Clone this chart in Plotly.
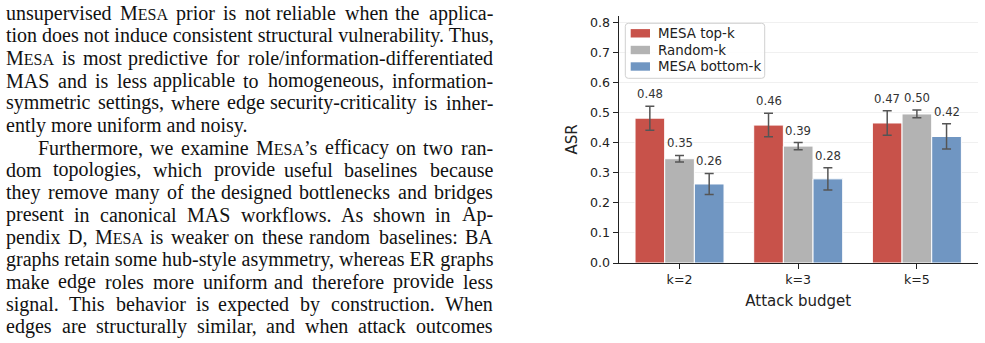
import plotly.graph_objects as go

W, H = 985, 343

# ---------------- data ----------------
categories = ["k=2", "k=3", "k=5"]
series_names = ["MESA top-k", "Random-k", "MESA bottom-k"]
top_k = [0.482, 0.459, 0.466]
top_k_err = [0.040, 0.039, 0.041]
random_k = [0.347, 0.389, 0.496]
random_k_err = [0.011, 0.012, 0.013]
bottom_k = [0.263, 0.280, 0.421]
bottom_k_err = [0.035, 0.037, 0.042]
y_ticks = [0.0, 0.1, 0.2, 0.3, 0.4, 0.5, 0.6, 0.7, 0.8]

colors = ["#C8524A", "#B3B3B3", "#7096C2"]

paragraph_lines = [
    "unsupervised MESA prior is not reliable when the applica-",
    "tion does not induce consistent structural vulnerability. Thus,",
    "MESA is most predictive for role/information-differentiated",
    "MAS and is less applicable to homogeneous, information-",
    "symmetric settings, where edge security-criticality is inher-",
    "ently more uniform and noisy.",
    "Furthermore, we examine MESA’s efficacy on two ran-",
    "dom topologies, which provide useful baselines because",
    "they remove many of the designed bottlenecks and bridges",
    "present in canonical MAS workflows. As shown in Ap-",
    "pendix D, MESA is weaker on these random baselines: BA",
    "graphs retain some hub-style asymmetry, whereas ER graphs",
    "make edge roles more uniform and therefore provide less",
    "signal. This behavior is expected by construction. When",
    "edges are structurally similar, and when attack outcomes",
]
indented_line = 6
paragraph_end_line = 5

# ---------------- text layout helpers ----------------
FS, SCFS = 20, 16
TW = {" ": 250, "!": 333, ",": 250, "-": 333, ".": 250, "/": 278, ":": 278,
      ";": 278, "’": 333, "'": 180,
      "A": 722, "B": 667, "C": 667, "D": 722, "E": 611, "F": 556, "G": 722,
      "H": 722, "I": 333, "J": 389, "K": 722, "L": 611, "M": 889, "N": 722,
      "O": 722, "P": 556, "Q": 722, "R": 667, "S": 556, "T": 611, "U": 722,
      "V": 722, "W": 944, "X": 722, "Y": 722, "Z": 611,
      "a": 444, "b": 500, "c": 444, "d": 500, "e": 444, "f": 333, "g": 500,
      "h": 500, "i": 278, "j": 278, "k": 500, "l": 278, "m": 778, "n": 500,
      "o": 500, "p": 500, "q": 500, "r": 333, "s": 389, "t": 278, "u": 500,
      "v": 500, "w": 722, "x": 500, "y": 500, "z": 444}


def text_w(s, size):
    return sum(TW.get(c, 500) for c in s) * size / 1000.0


def word_w(word):
    if "MESA" in word:
        pre, post = word.split("MESA", 1)
        return text_w(pre + "M" + post, FS) + text_w("ESA", SCFS)
    return text_w(word, FS)


def word_html(word):
    return word.replace("MESA", f'M<span style="font-size:{SCFS}px">ESA</span>')


def px_x(v):
    return v / W


def px_y(v):
    return 1 - v / H


# ---------------- figure ----------------
xs = list(range(len(categories)))
fig = go.Figure()
all_vals = [top_k, random_k, bottom_k]
all_errs = [top_k_err, random_k_err, bottom_k_err]
for name, vals, errs, col in zip(series_names, all_vals, all_errs, colors):
    fig.add_trace(go.Bar(
        x=xs, y=vals, name=name, showlegend=False,
        marker=dict(color=col, line=dict(color="white", width=1)),
        error_y=dict(type="data", array=errs, visible=True,
                     color="#555555", thickness=1.5, width=4.5),
    ))

# value labels
offsets = [-0.25, 0.0, 0.25]
for off, vals, errs in zip(offsets, all_vals, all_errs):
    for xi, v, e in zip(xs, vals, errs):
        fig.add_annotation(
            x=xi + off, y=v + e, xref="x", yref="y",
            text=f"{v:.2f}", showarrow=False,
            yanchor="bottom", xanchor="center", yshift=3,
            font=dict(family="DejaVu Sans", size=11.7, color="#333333"),
        )

# paragraph text (justified where there is room)
LEFT, RIGHT = 5.0, 494.0
tfont = dict(family="Liberation Serif", size=FS, color="#111111")
for i, line in enumerate(paragraph_lines):
    xs0 = 37.0 if i == indented_line else LEFT
    ypx = 13.5 + 22.35 * i
    words = line.split(" ")
    widths = [word_w(w) for w in words]
    n = len(words)
    gap = (RIGHT - xs0 - sum(widths)) / (n - 1)
    if i == paragraph_end_line or gap < 5.6:
        fig.add_annotation(x=px_x(xs0), y=px_y(ypx), xref="paper",
                           yref="paper", text=word_html(line),
                           showarrow=False, xanchor="left", yanchor="middle",
                           font=tfont, borderpad=0)
        continue
    half = (n + 1) // 2
    xpos = xs0
    for j in range(half):
        fig.add_annotation(
            x=px_x(xpos), y=px_y(ypx), xref="paper", yref="paper",
            text=word_html(words[j]), showarrow=False, xanchor="left",
            yanchor="middle", font=tfont, borderpad=0,
        )
        xpos += widths[j] + gap
    xr = RIGHT
    for j in range(n - 1, half - 1, -1):
        fig.add_annotation(
            x=px_x(xr), y=px_y(ypx), xref="paper", yref="paper",
            text=word_html(words[j]), showarrow=False, xanchor="right",
            yanchor="middle", font=tfont, borderpad=0,
        )
        xr -= widths[j] + gap

# legend box (drawn in paper coordinates)
lx0, lx1, ly0, ly1, r = 625.3, 764.7, 23.3, 78.3, 3
path = (f"M{px_x(lx0 + r)},{px_y(ly0)} L{px_x(lx1 - r)},{px_y(ly0)} "
        f"Q{px_x(lx1)},{px_y(ly0)} {px_x(lx1)},{px_y(ly0 + r)} "
        f"L{px_x(lx1)},{px_y(ly1 - r)} "
        f"Q{px_x(lx1)},{px_y(ly1)} {px_x(lx1 - r)},{px_y(ly1)} "
        f"L{px_x(lx0 + r)},{px_y(ly1)} "
        f"Q{px_x(lx0)},{px_y(ly1)} {px_x(lx0)},{px_y(ly1 - r)} "
        f"L{px_x(lx0)},{px_y(ly0 + r)} "
        f"Q{px_x(lx0)},{px_y(ly0)} {px_x(lx0 + r)},{px_y(ly0)} Z")
fig.add_shape(type="path", path=path, xref="paper", yref="paper",
              fillcolor="rgba(255,255,255,0.85)",
              line=dict(color="#D0D0D0", width=1), layer="above")
row_y = [33.3, 50.0, 66.5]
for name, col, ry in zip(series_names, colors, row_y):
    fig.add_shape(type="rect", xref="paper", yref="paper",
                  x0=px_x(630.7), x1=px_x(650.0),
                  y0=px_y(ry - 4.2), y1=px_y(ry + 4.2),
                  fillcolor=col, line=dict(width=0), layer="above")
    fig.add_annotation(x=px_x(655.5), y=px_y(ry), xref="paper", yref="paper",
                       text=name, showarrow=False, xanchor="left",
                       yanchor="middle",
                       font=dict(family="DejaVu Sans", size=13.4,
                                 color="#222222"))

x0, x1 = 618.7, 977.7
ytop, ybot = 16, 263
fig.update_layout(
    width=W, height=H,
    margin=dict(l=0, r=0, t=0, b=0),
    paper_bgcolor="white", plot_bgcolor="white",
    barmode="group", bargap=0.25, bargroupgap=0.0,
    font=dict(family="DejaVu Sans", color="#222222"),
    showlegend=False,
    xaxis=dict(
        domain=[x0 / W, x1 / W],
        range=[-0.5125, 2.5125], automargin=False,
        tickmode="array", tickvals=xs, ticktext=categories,
        showline=True, linecolor="#222222", linewidth=1.2,
        ticks="outside", ticklen=5, tickwidth=1.2, tickcolor="#222222",
        tickfont=dict(family="DejaVu Sans", size=12.6, color="#222222"),
        showgrid=False, zeroline=False,
        title=dict(text="Attack budget", standoff=9,
                   font=dict(family="DejaVu Sans", size=15, color="#222222")),
    ),
    yaxis=dict(
        domain=[1 - ybot / H, 1 - ytop / H],
        range=[0, 0.822], automargin=False,
        tickmode="array", tickvals=y_ticks,
        ticktext=[f"{t:.1f}" for t in y_ticks],
        showline=True, linecolor="#222222", linewidth=1.2,
        ticks="outside", ticklen=5, tickwidth=1.2, tickcolor="#222222",
        tickfont=dict(family="DejaVu Sans", size=12.6, color="#222222"),
        showgrid=True, gridcolor="#F0F0F0", gridwidth=1,
        zeroline=False,
        title=dict(text="ASR", standoff=8,
                   font=dict(family="DejaVu Sans", size=15, color="#222222")),
    ),
)

fig.write_html("out.html")
